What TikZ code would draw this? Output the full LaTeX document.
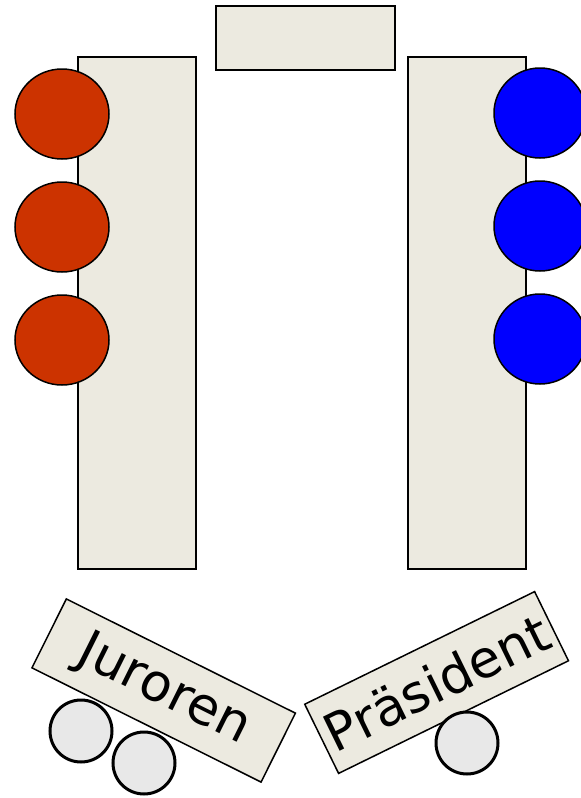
\documentclass[tikz,border=0pt]{standalone}
\usepackage{fontspec}
\setmainfont{DejaVu Sans}
\usetikzlibrary{shapes.geometric}
\definecolor{tablefill}{HTML}{ECEAE0}
\definecolor{redteam}{HTML}{CC3300}
\definecolor{blueteam}{HTML}{0000FF}
\definecolor{seatgray}{HTML}{E8E8E8}
\begin{document}
\begin{tikzpicture}[x=1pt,y=-1pt,
  tablebox/.style={draw=black, fill=tablefill, line width=1.5pt, inner sep=0pt, rectangle},
  redseat/.style={ellipse, draw=black, fill=redteam, line width=1.5pt, minimum width=94pt, minimum height=90pt, inner sep=0pt},
  blueseat/.style={ellipse, draw=black, fill=blueteam, line width=1.5pt, minimum width=92pt, minimum height=90pt, inner sep=0pt},
  grayseat/.style={circle, draw=black, fill=seatgray, line width=3pt, minimum size=62pt, inner sep=0pt},
  labeltext/.style={font=\fontsize{52}{56}\selectfont}
]
\useasboundingbox (0,0) rectangle (581,798);
% tables
\node[tablebox, minimum width=179pt, minimum height=64pt, line width=2pt] (top) at (305.5,38) {};
\node[tablebox, minimum width=118pt, minimum height=512pt] (lefttab) at (137,313) {};
\node[tablebox, minimum width=118pt, minimum height=512pt] (righttab) at (467,313) {};
% red seats
\node[redseat] (r1) at (62,114) {};
\node[redseat] (r2) at (62,227) {};
\node[redseat] (r3) at (62,340) {};
% blue seats
\node[blueseat] (b1) at (540,113) {};
\node[blueseat] (b2) at (540,226) {};
\node[blueseat] (b3) at (540,339) {};
% bottom tables
\node[tablebox, rotate=-26.5, minimum width=256pt, minimum height=77pt, labeltext] (jur) at (163.7,690.5) {Juroren\hspace{18pt}};
\node[tablebox, rotate=26.1, minimum width=256pt, minimum height=77pt, labeltext] (pres) at (436.6,682.5) {Präsident};
% gray seats
\node[grayseat] (g1) at (81,731) {};
\node[grayseat] (g2) at (144,763) {};
\node[grayseat] (g3) at (467,743) {};
\end{tikzpicture}
\end{document}
